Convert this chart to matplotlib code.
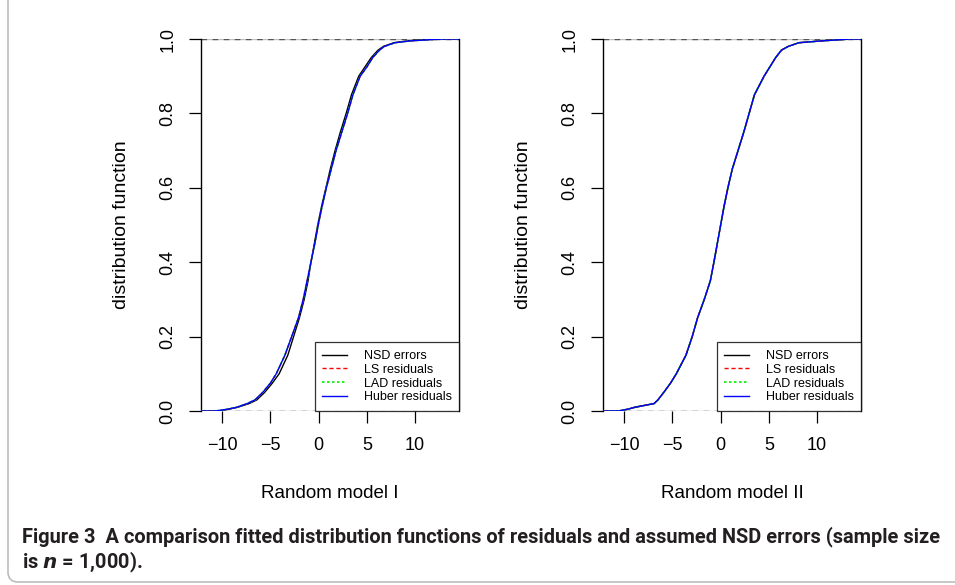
import matplotlib
matplotlib.use("Agg")
import matplotlib.pyplot as plt
from matplotlib.patches import FancyBboxPatch

plt.rcParams['font.family'] = ['Liberation Sans', 'DejaVu Sans']

probs = [0.0, 0.005, 0.01, 0.02, 0.03, 0.05, 0.075, 0.1, 0.15, 0.2, 0.25, 0.3,
         0.35, 0.4, 0.45, 0.5, 0.55, 0.6, 0.65, 0.7, 0.75, 0.8, 0.85, 0.9,
         0.925, 0.95, 0.97, 0.98, 0.99, 0.995, 1.0]

# Random model I: x value reached at each probability
nsd_q1 = [-10.5, -9.3, -8.4, -7.2, -6.4, -5.6, -4.8, -4.1, -3.2, -2.6, -2.0, -1.5,
          -1.1, -0.8, -0.45, -0.1, 0.3, 0.75, 1.2, 1.7, 2.25, 2.85, 3.4, 4.15,
          4.8, 5.45, 6.15, 6.7, 7.8, 9.3, 12.0]
ls_q1 = [-10.7, -9.4, -8.5, -7.4, -6.6, -5.8, -5.0, -4.4, -3.5, -2.8, -2.1, -1.6,
         -1.2, -0.8, -0.4, -0.05, 0.35, 0.8, 1.3, 1.8, 2.4, 3.0, 3.55, 4.3,
         5.0, 5.6, 6.3, 6.8, 7.9, 9.5, 12.8]
lad_q1 = [-10.7, -9.4, -8.5, -7.4, -6.6, -5.8, -5.0, -4.4, -3.5, -2.8, -2.1, -1.6,
          -1.2, -0.8, -0.4, -0.05, 0.35, 0.8, 1.3, 1.8, 2.4, 3.0, 3.55, 4.3,
          5.0, 5.6, 6.3, 6.8, 7.9, 9.5, 12.8]
huber_q1 = [-10.7, -9.4, -8.5, -7.4, -6.6, -5.8, -5.0, -4.4, -3.5, -2.8, -2.1, -1.6,
            -1.2, -0.8, -0.4, -0.05, 0.35, 0.8, 1.3, 1.8, 2.4, 3.0, 3.55, 4.3,
            5.0, 5.6, 6.3, 6.8, 7.9, 9.5, 12.8]

# Random model II
nsd_q2 = [-10.6, -9.6, -8.9, -6.9, -6.5, -5.9, -5.2, -4.6, -3.6, -2.95, -2.4, -1.7,
          -1.07, -0.7, -0.35, 0.0, 0.35, 0.75, 1.2, 1.8, 2.4, 2.95, 3.5, 4.5,
          5.1, 5.7, 6.3, 7.0, 8.1, 10.5, 13.5]
ls_q2 = [-10.6, -9.6, -8.9, -6.9, -6.5, -5.9, -5.2, -4.6, -3.6, -2.95, -2.4, -1.7,
         -1.07, -0.7, -0.35, 0.0, 0.35, 0.75, 1.2, 1.8, 2.4, 2.95, 3.5, 4.5,
         5.1, 5.7, 6.3, 7.0, 8.1, 10.5, 13.5]
lad_q2 = [-10.6, -9.6, -8.9, -6.9, -6.5, -5.9, -5.2, -4.6, -3.6, -2.95, -2.4, -1.7,
          -1.07, -0.7, -0.35, 0.0, 0.35, 0.75, 1.2, 1.8, 2.4, 2.95, 3.5, 4.5,
          5.1, 5.7, 6.3, 7.0, 8.1, 10.5, 13.5]
huber_q2 = [-10.6, -9.6, -8.9, -6.9, -6.5, -5.9, -5.2, -4.6, -3.6, -2.95, -2.4, -1.7,
            -1.07, -0.7, -0.35, 0.0, 0.35, 0.75, 1.2, 1.8, 2.4, 2.95, 3.5, 4.5,
            5.1, 5.7, 6.3, 7.0, 8.1, 10.5, 13.5]

xlim = (-12.2, 14.55)
xticks = [-10, -5, 0, 5, 10]
yticks = [0.0, 0.2, 0.4, 0.6, 0.8, 1.0]
labels = ['NSD errors', 'LS residuals', 'LAD residuals', 'Huber residuals']
titles = ['Random model I', 'Random model II']
panels = [(nsd_q1, ls_q1, lad_q1, huber_q1), (nsd_q2, ls_q2, lad_q2, huber_q2)]

W, H = 955, 585
fig = plt.figure(figsize=(W / 100, H / 100), dpi=100)

frame = FancyBboxPatch((8, 3), 1100, 800, boxstyle="round,pad=0,rounding_size=10",
                       transform=None, fc='none', ec='#bdbdbd', lw=1.2)
fig.patches.append(frame)

lefts = [201, 603]
for k, (left, series) in enumerate(zip(lefts, panels)):
    ax = fig.add_axes([left / W, 1 - 411 / H, 258 / W, 372 / H])
    nsd, ls, lad, hub = series
    xs_ext = lambda q: [xlim[0]] + q + [xlim[1]]
    ps = [0.0] + probs + [1.0]
    ax.axhline(0, color='#c0c0c0', lw=1, zorder=1)
    ax.axhline(1, color='#c0c0c0', lw=1, zorder=1)
    ax.axhline(0, color='#555555', lw=1, ls=(0, (4, 4)), zorder=1)
    ax.axhline(1, color='#555555', lw=1, ls=(0, (4, 4)), zorder=1)
    ax.plot(xs_ext(nsd), ps, color='black', lw=1, label=labels[0], zorder=2)
    ax.plot(xs_ext(ls), ps, color='red', lw=1, ls=(0, (3, 2)), label=labels[1], zorder=3)
    ax.plot(xs_ext(lad), ps, color='#00ee00', lw=1.2, ls=(0, (1.5, 1.5)), label=labels[2], zorder=4)
    ax.plot(xs_ext(hub), ps, color='blue', lw=1, label=labels[3], zorder=5)
    ax.set_xlim(*xlim)
    ax.set_ylim(0, 1)
    ax.set_xticks(xticks)
    ax.set_xticklabels(['\u221210', '\u22125', '0', '5', '10'])
    ax.set_yticks(yticks)
    ax.set_yticklabels(['0.0', '0.2', '0.4', '0.6', '0.8', '1.0'], rotation=90, va='center')
    ax.spines['top'].set_visible(False)
    ax.spines['bottom'].set_visible(False)
    ax.spines['left'].set_linewidth(1)
    ax.spines['right'].set_linewidth(1)
    ax.tick_params(length=8.5, width=0.9, labelsize=13)
    ax.tick_params(axis='x', pad=10)
    ax.tick_params(axis='y', pad=9)
    ax.text(0.5, (411 - 493) / 372, titles[k], transform=ax.transAxes,
            fontsize=13.5, ha='center', va='center')
    ax.text(-0.31, 0.5, 'distribution function', transform=ax.transAxes,
            fontsize=14, rotation=90, ha='center', va='center')
    leg = ax.legend(loc='lower right', bbox_to_anchor=(1.0, 0.0), borderaxespad=0,
                    fancybox=False, edgecolor='black', fontsize=9, handlelength=2.0,
                    labelspacing=0.15, borderpad=0.6, handletextpad=1.3)
    leg.get_frame().set_linewidth(0.9)
    leg.set_zorder(6)

cap_font = ['Roboto', 'DejaVu Sans']
cap1 = fig.text(22 / W, 1 - 537 / H,
                'Figure 3  A comparison fitted distribution functions of residuals and assumed NSD errors (sample size',
                fontsize=13, fontweight='bold', color='#231f20', va='center', ha='left',
                family=cap_font)
cap2 = fig.text(22 / W, 1 - 562 / H, 'is $\\boldsymbol{n}$ = 1,000).',
                fontsize=13, fontweight='bold', color='#231f20', va='center', ha='left',
                family=cap_font)
# scale the caption so the first line ends where it does in the figure
fig.canvas.draw()
w = cap1.get_window_extent().width
fs = 13 * 923 / w
cap1.set_fontsize(fs)
cap2.set_fontsize(fs)

fig.savefig('out.png', dpi=100)
